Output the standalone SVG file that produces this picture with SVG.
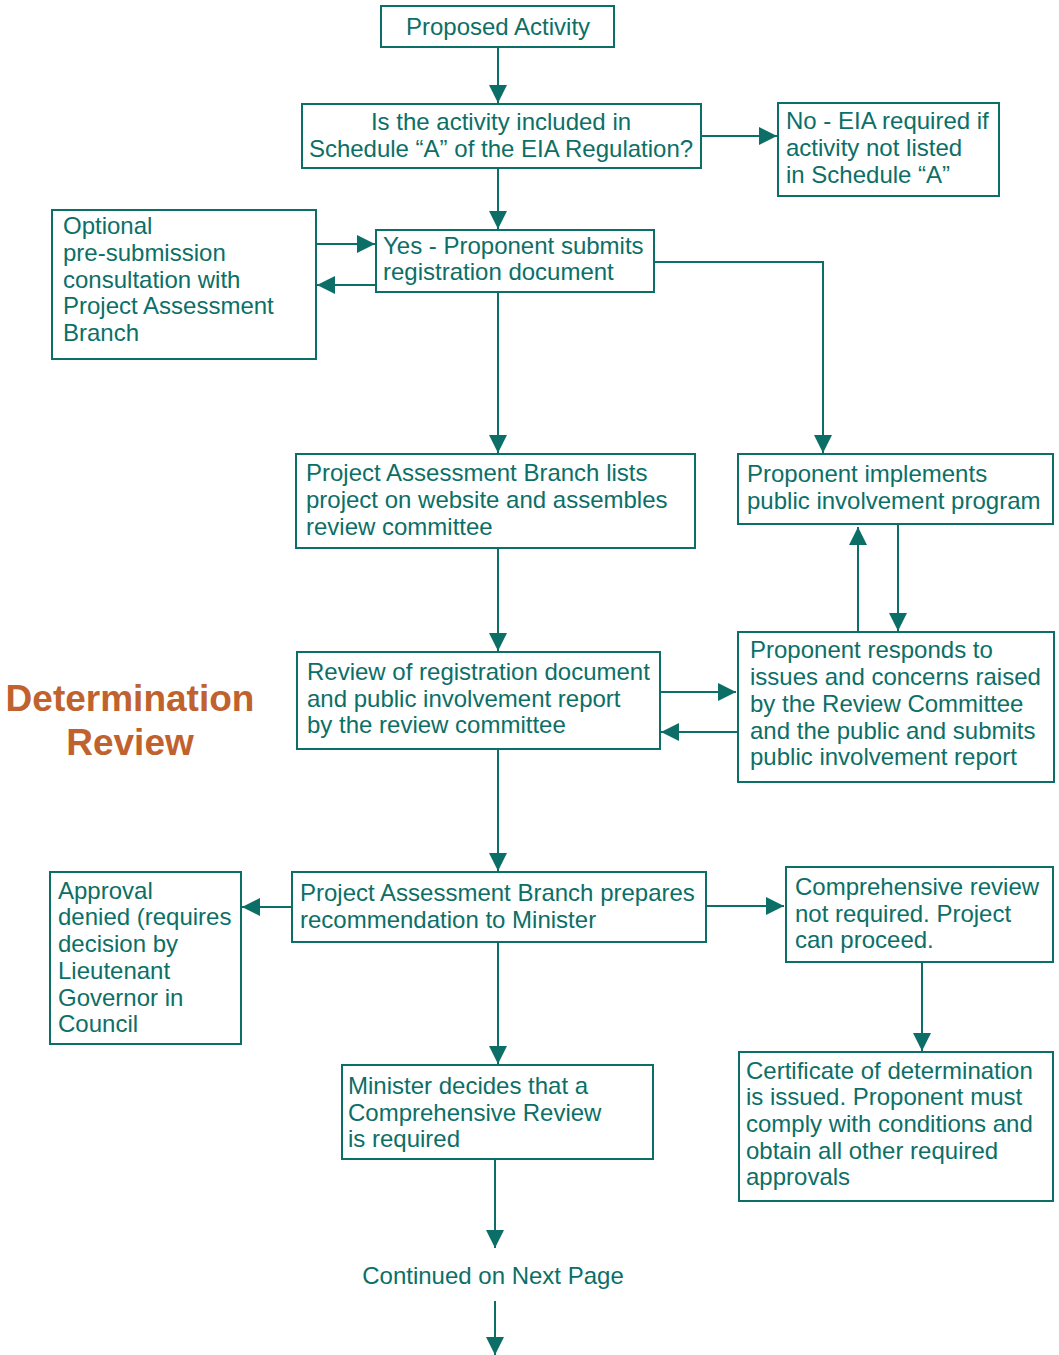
<svg xmlns="http://www.w3.org/2000/svg" width="1059" height="1355" viewBox="0 0 1059 1355">
<style>
.box{fill:#fff;stroke:#0c6f67;stroke-width:2}
.t{font-family:"Liberation Sans",Arial,sans-serif;font-size:24px;fill:#0c6f67}
.c{text-anchor:middle}
.conn{fill:none;stroke:#0c6f67;stroke-width:2}
.title{font-family:"Liberation Sans",Arial,sans-serif;font-size:37px;font-weight:bold;fill:#c0622e;text-anchor:middle}
</style>
<defs>
<marker id="ah" markerUnits="userSpaceOnUse" markerWidth="18" markerHeight="18" viewBox="0 0 16 16" refX="16" refY="8" orient="auto">
<path d="M0,0 L16,8 L0,16 Z" fill="#0c6f67"/>
</marker>
</defs>
<rect width="1059" height="1355" fill="#fff"/>
<g id="connectors">
<line class="conn" x1="498" y1="47" x2="498" y2="103" marker-end="url(#ah)"/>
<line class="conn" x1="701" y1="136" x2="777" y2="136" marker-end="url(#ah)"/>
<line class="conn" x1="498" y1="168" x2="498" y2="229" marker-end="url(#ah)"/>
<line class="conn" x1="316" y1="244" x2="375" y2="244" marker-end="url(#ah)"/>
<line class="conn" x1="376" y1="285" x2="317" y2="285" marker-end="url(#ah)"/>
<polyline class="conn" points="654,262 823,262 823,453" marker-end="url(#ah)"/>
<line class="conn" x1="498" y1="292" x2="498" y2="453" marker-end="url(#ah)"/>
<line class="conn" x1="498" y1="548" x2="498" y2="651" marker-end="url(#ah)"/>
<line class="conn" x1="858" y1="632" x2="858" y2="527" marker-end="url(#ah)"/>
<line class="conn" x1="898" y1="524" x2="898" y2="631" marker-end="url(#ah)"/>
<line class="conn" x1="660" y1="692" x2="736" y2="692" marker-end="url(#ah)"/>
<line class="conn" x1="738" y1="732" x2="661" y2="732" marker-end="url(#ah)"/>
<line class="conn" x1="498" y1="749" x2="498" y2="871" marker-end="url(#ah)"/>
<line class="conn" x1="292" y1="907" x2="242" y2="907" marker-end="url(#ah)"/>
<line class="conn" x1="706" y1="906" x2="784" y2="906" marker-end="url(#ah)"/>
<line class="conn" x1="922" y1="962" x2="922" y2="1051" marker-end="url(#ah)"/>
<line class="conn" x1="498" y1="942" x2="498" y2="1064" marker-end="url(#ah)"/>
<line class="conn" x1="495" y1="1159" x2="495" y2="1248" marker-end="url(#ah)"/>
<line class="conn" x1="495" y1="1301" x2="495" y2="1355" marker-end="url(#ah)"/>
</g>
<g id="title">
<text class="title" x="130" y="711">Determination</text>
<text class="title" x="130" y="755">Review</text>
</g>
<g id="proposed">
<rect class="box" x="381" y="6" width="233" height="41"/>
<text class="t c" x="498" y="35">Proposed Activity</text>
</g>
<g id="schedule">
<rect class="box" x="302" y="104" width="399" height="64"/>
<text class="t c" x="501" y="130">Is the activity included in</text>
<text class="t c" x="501" y="157">Schedule “A” of the EIA Regulation?</text>
</g>
<g id="no-eia">
<rect class="box" x="778" y="103" width="221" height="93"/>
<text class="t" x="786" y="129">No - EIA required if</text>
<text class="t" x="786" y="156">activity not listed</text>
<text class="t" x="786" y="183">in Schedule “A”</text>
</g>
<g id="yes-submit">
<rect class="box" x="376" y="230" width="278" height="62"/>
<text class="t" x="383" y="254">Yes - Proponent submits</text>
<text class="t" x="383" y="280">registration document</text>
</g>
<g id="optional">
<rect class="box" x="52" y="210" width="264" height="149"/>
<text class="t" x="63" y="234">Optional</text>
<text class="t" x="63" y="261">pre-submission</text>
<text class="t" x="63" y="288">consultation with</text>
<text class="t" x="63" y="314">Project Assessment</text>
<text class="t" x="63" y="341">Branch</text>
</g>
<g id="pab-lists">
<rect class="box" x="296" y="454" width="399" height="94"/>
<text class="t" x="306" y="481">Project Assessment Branch lists</text>
<text class="t" x="306" y="508">project on website and assembles</text>
<text class="t" x="306" y="535">review committee</text>
</g>
<g id="implements">
<rect class="box" x="738" y="454" width="315" height="70"/>
<text class="t" x="747" y="482">Proponent implements</text>
<text class="t" x="747" y="509">public involvement program</text>
</g>
<g id="review">
<rect class="box" x="297" y="652" width="363" height="97"/>
<text class="t" x="307" y="680">Review of registration document</text>
<text class="t" x="307" y="707">and public involvement report</text>
<text class="t" x="307" y="733">by the review committee</text>
</g>
<g id="responds">
<rect class="box" x="738" y="632" width="316" height="150"/>
<text class="t" x="750" y="658">Proponent responds to</text>
<text class="t" x="750" y="685">issues and concerns raised</text>
<text class="t" x="750" y="712">by the Review Committee</text>
<text class="t" x="750" y="739">and the public and submits</text>
<text class="t" x="750" y="765">public involvement report</text>
</g>
<g id="prepares">
<rect class="box" x="292" y="872" width="414" height="70"/>
<text class="t" x="300" y="901">Project Assessment Branch prepares</text>
<text class="t" x="300" y="928">recommendation to Minister</text>
</g>
<g id="denied">
<rect class="box" x="50" y="872" width="191" height="172"/>
<text class="t" x="58" y="899">Approval</text>
<text class="t" x="58" y="925">denied (requires</text>
<text class="t" x="58" y="952">decision by</text>
<text class="t" x="58" y="979">Lieutenant</text>
<text class="t" x="58" y="1006">Governor in</text>
<text class="t" x="58" y="1032">Council</text>
</g>
<g id="not-required">
<rect class="box" x="786" y="867" width="267" height="95"/>
<text class="t" x="795" y="895">Comprehensive review</text>
<text class="t" x="795" y="922">not required. Project</text>
<text class="t" x="795" y="948">can proceed.</text>
</g>
<g id="minister">
<rect class="box" x="342" y="1065" width="311" height="94"/>
<text class="t" x="348" y="1094">Minister decides that a</text>
<text class="t" x="348" y="1121">Comprehensive Review</text>
<text class="t" x="348" y="1147">is required</text>
</g>
<g id="certificate">
<rect class="box" x="739" y="1052" width="314" height="149"/>
<text class="t" x="746" y="1079">Certificate of determination</text>
<text class="t" x="746" y="1105">is issued. Proponent must</text>
<text class="t" x="746" y="1132">comply with conditions and</text>
<text class="t" x="746" y="1159">obtain all other required</text>
<text class="t" x="746" y="1185">approvals</text>
</g>
<g id="continued">
<text class="t c" x="493" y="1284">Continued on Next Page</text>
</g>
</svg>
